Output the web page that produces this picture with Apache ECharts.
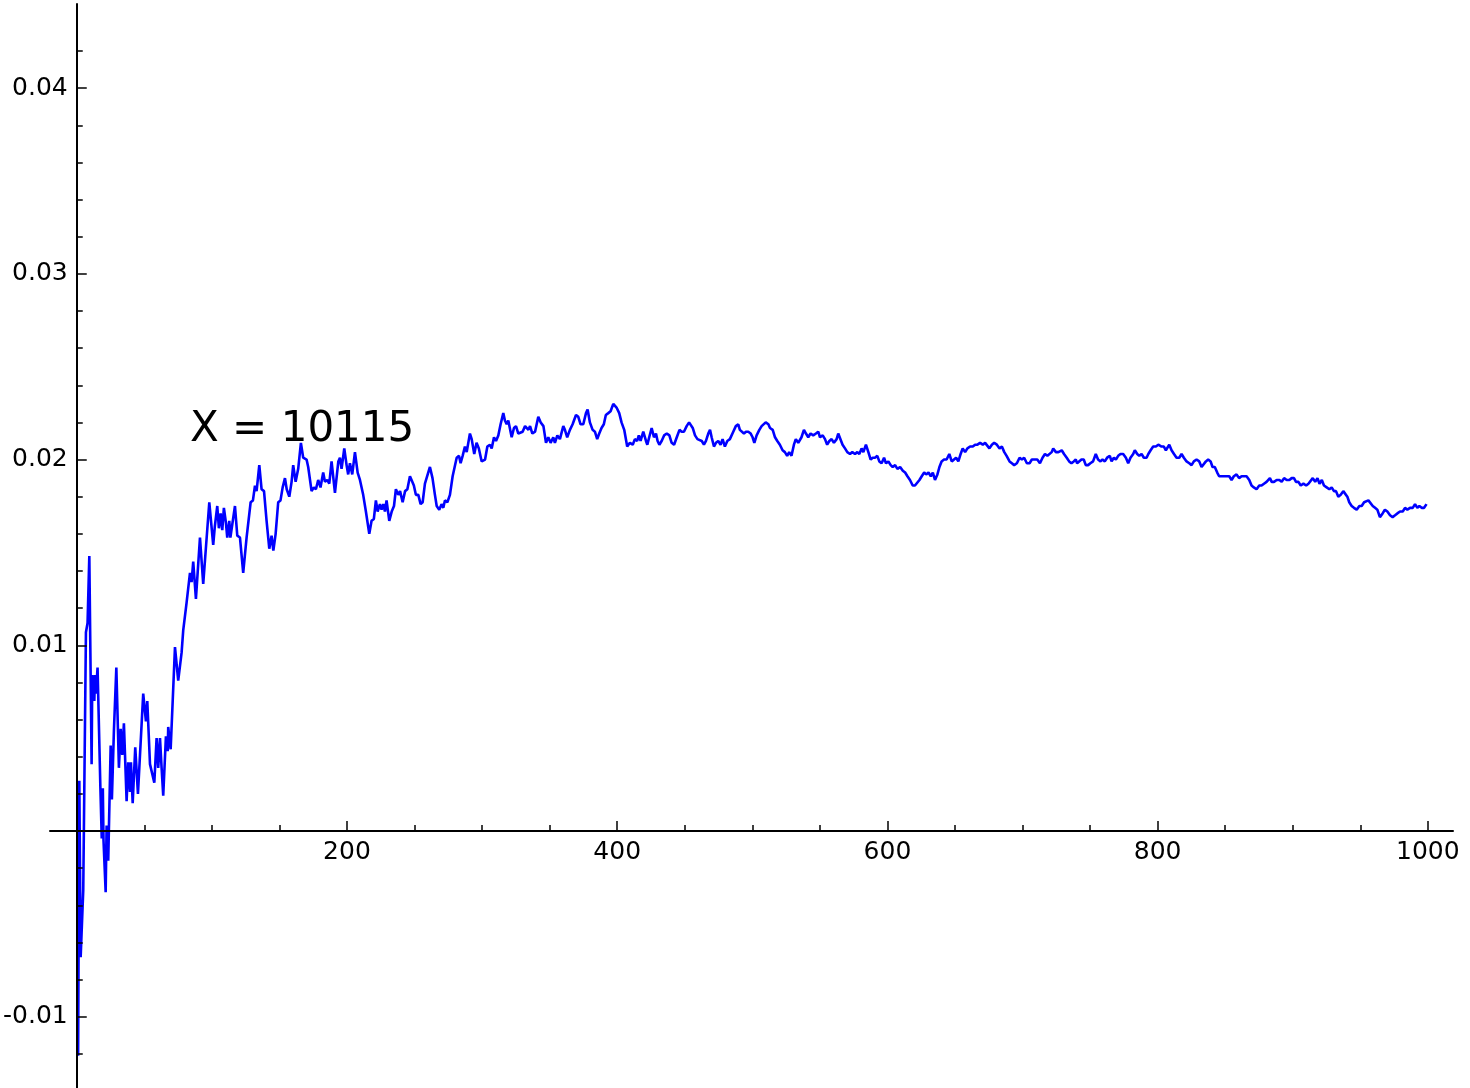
<!DOCTYPE html>
<html><head><meta charset="utf-8">
<script src="https://cdn.jsdelivr.net/npm/echarts@6/dist/echarts.min.js"></script>
<style>html,body{margin:0;padding:0;background:#fff}#chart{width:1470px;height:1088px}</style>
</head><body><div id="chart"></div>
<script>
const xs = [
1, 1.9, 2.9, 4.8, 6.8, 8, 9.3, 11, 11.5, 13,
13.5, 14.2, 15.4, 17.5, 18.5, 19.3, 19.8, 21.4, 22.1, 23.3,
25.1, 26, 27.5, 29.3, 31.2, 32.5, 33.7, 34.9, 36.9, 38.1,
39.4, 40.1, 41.4, 43.3, 45.3, 49.2, 51.2, 52.2, 54.2, 57.4,
59.1, 60.3, 61.6, 62.8, 64, 66, 67.3, 67.7, 69.5, 72.7,
75.1, 77.6, 78.8, 81.3, 82.5, 83.8, 85, 86.2, 88.2, 91.2,
93.6, 98.1, 101, 102.2, 104, 105.2, 106.5, 107.7, 108.9, 110.4,
111.4, 112.9, 113.7, 117.1, 118.8, 120.8, 123.2, 125.7, 128.7, 130.4,
131.9, 133.1, 135.1, 136.8, 138.6, 140.5, 142.5, 144.2, 145.5, 147.2,
149.1, 150.8, 152.4, 154.1, 155.4, 157.3, 159, 160.2, 162, 163.9,
165.9, 167.6, 168.9, 170.1, 171.3, 173.8, 175.5, 177, 178.7, 180.4,
182.4, 183.7, 185.4, 186.9, 188.6, 191.1, 193.6, 194.8, 196, 198,
199.7, 200.9, 202.2, 203.9, 205.9, 207.9, 209.6, 212, 214, 216.5,
218.2, 219.9, 221.4, 222.7, 224.4, 225.6, 226.9, 228.1, 229.3, 231.3,
233.1, 234.8, 236.2, 238, 239.3, 241.2, 243, 244.7, 246.6, 247.8,
249.5, 251, 252.8, 254.5, 256, 257.7, 258.9, 261.4, 263.3, 265.1,
266.4, 268.3, 270, 271.3, 272.5, 274.3, 276.2, 278.2, 281.2, 282.9,
284.1, 285.6, 287.3, 288.6, 291, 292.3, 294.2, 295.9, 297.6, 299.7,
302.2, 303.9, 305.8, 307.1, 308.8, 310.3, 312, 313.7, 315.7, 316.9,
318.2, 319.4, 321.9, 323.6, 325.1, 326.8, 328.1, 330, 331.8, 333,
334.3, 335.5, 337.2, 339.2, 341.6, 343.4, 345.4, 347.3, 349, 350.7,
352.7, 353.9, 355.7, 357.6, 360.1, 361.3, 363, 365, 367, 369.5,
371.2, 372.9, 374.9, 376.9, 378.1, 379.8, 381.8, 383.5, 385.2, 386.7,
388.4, 390.1, 391.6, 393.4, 395.1, 397.1, 399.5, 401.5, 403.2, 405.2,
407.4, 409.4, 411.5, 413.1, 414.8, 416, 417.3, 419.3, 421.3, 422.3,
423.7, 425.5, 427.2, 428.7, 429.9, 431.2, 432.9, 434.7, 436.7, 438.6,
440.3, 442.1, 444.1, 446.1, 447.7, 449.4, 451.4, 453.2, 454.4, 455.9,
457.6, 459.4, 460.8, 462.6, 464.2, 465.7, 467.4, 468.7, 469.9, 471.6,
473.1, 474.8, 476.5, 478, 479.7, 481.5, 483.4, 485.9, 487.8, 489.6,
490.8, 492.1, 493.8, 495.3, 497, 498.8, 500.2, 501.5, 503.2, 505.2,
506.9, 508.2, 509.9, 511.9, 513.1, 515.1, 516.8, 518.5, 520.4, 522.4,
524.1, 525.8, 527.3, 529, 530.8, 532.2, 534, 535.2, 536.4, 538.2,
539.7, 541.4, 543.1, 545.1, 547.1, 548.8, 550.1, 552.1, 553.8, 555.4,
557, 558.7, 560.4, 562.4, 563.6, 564.8, 566.8, 568.6, 570.3, 572.3,
574, 576, 577.7, 579.2, 580.9, 582.2, 584.1, 585.9, 587.6, 589.1,
590.8, 592.5, 594, 595.7, 597.5, 598.9, 600.7, 602.4, 603.9, 605.7,
607.4, 609.4, 611.4, 613.1, 614.8, 616.7, 618.7, 620.4, 621.7, 623.7,
625.4, 627.2, 628.7, 630.4, 632.1, 633.6, 635.2, 637, 638.5, 640.1,
641.9, 643.8, 645.8, 647.6, 648.8, 650.8, 652.5, 654.2, 655.7, 657.5,
659.2, 661.2, 663.2, 664.9, 666.6, 668.6, 670.6, 672.3, 673.5, 675.5,
677.3, 679, 681, 683, 684.7, 686.5, 688.2, 690.4, 692.1, 693.8,
695.8, 697.8, 699.5, 701.2, 703.2, 705.2, 706.9, 708.6, 710.9, 712.9,
714.8, 716.6, 718.4, 719.8, 721.6, 722.7, 724.7, 726.5, 729, 730.7,
732.7, 734.5, 736.2, 737.9, 739.4, 740.4, 741.8, 743.6, 745.3, 746.8,
748.5, 750.2, 752.2, 754.2, 755.9, 757.7, 759.2, 760.9, 762.6, 764.6,
765.9, 767.6, 769.1, 770.8, 772.5, 774.5, 776.5, 778.2, 779.9, 781.9,
783.1, 784.9, 786.4, 788.1, 789.8, 791.8, 793.1, 794.8, 796.7, 798.7,
800.5, 801.7, 802.9, 804.6, 806.1, 807.1, 808.6, 810.3, 812.1, 814,
816, 817.7, 819.4, 821.4, 823.4, 825.1, 826.8, 828.8, 830.8, 832.5,
833.7, 835.7, 837.4, 839.2, 840.6, 842.3, 844.1, 845.5, 847.3, 849,
851, 853, 854.7, 856.4, 858.4, 860.3, 862.1, 863.8, 865.8, 867.8,
869.5, 871.2, 873.2, 875.2, 876.9, 878.7, 880.6, 881.9, 883.1, 884.4,
886.1, 888.1, 890.1, 891.8, 893.6, 895.5, 897.5, 899.2, 900.9, 902.4,
904.2, 905.9, 907.9, 909.9, 911.6, 912.8, 914.8, 916.6, 918.3, 919.8,
921.5, 923.1, 925.1, 927.1, 928.8, 930.5, 932, 933.7, 935.5, 937.4,
938.7, 940.4, 941.8, 943.6, 945.3, 947.3, 949.3, 951, 952.8, 954.2,
956, 957.2, 959.2, 960.9, 962.6, 964.5, 966.5, 968.2, 970, 972,
973.9, 975.7, 977.4, 979.4, 981.4, 983.1, 984.8, 986.8, 988.8, 990.5,
992.2, 993.7, 995.4, 997.2, 999
];
const ys = [
-0.0121, 0.0027, -0.0068, -0.0032, 0.0107, 0.0112, 0.0148, 0.0036, 0.0084, 0.0070,
0.0084, 0.0074, 0.0088, 0.0023, -0.0004, 0.0023, -0.0005, -0.0033, 0.0003, -0.0016,
0.0046, 0.0017, 0.0054, 0.0088, 0.0034, 0.0055, 0.0041, 0.0058, 0.0016, 0.0037,
0.0021, 0.0037, 0.0015, 0.0045, 0.0020, 0.0074, 0.0059, 0.0070, 0.0036, 0.0026,
0.0050, 0.0034, 0.0050, 0.0034, 0.0019, 0.0051, 0.0043, 0.0056, 0.0044, 0.0099,
0.0081, 0.0096, 0.0108, 0.0123, 0.0123, 0.0139, 0.0134, 0.0145, 0.0125, 0.0158,
0.0133, 0.0177, 0.0154, 0.0164, 0.0175, 0.0163, 0.0171, 0.0162, 0.0174, 0.0166,
0.0158, 0.0167, 0.0158, 0.0175, 0.0159, 0.0158, 0.0139, 0.0158, 0.0177, 0.0178,
0.0186, 0.0183, 0.0197, 0.0184, 0.0183, 0.0167, 0.0152, 0.0159, 0.0151, 0.0160,
0.0177, 0.0178, 0.0185, 0.0190, 0.0184, 0.0180, 0.0188, 0.0197, 0.0188, 0.0195,
0.0209, 0.0201, 0.0202, 0.0200, 0.0196, 0.0183, 0.0185, 0.0184, 0.0189, 0.0185,
0.0193, 0.0188, 0.0189, 0.0187, 0.0199, 0.0182, 0.0199, 0.0201, 0.0195, 0.0206,
0.0197, 0.0192, 0.0198, 0.0192, 0.0204, 0.0193, 0.0189, 0.0181, 0.0172, 0.0160,
0.0167, 0.0168, 0.0178, 0.0172, 0.0176, 0.0173, 0.0176, 0.0172, 0.0178, 0.0167,
0.0172, 0.0175, 0.0184, 0.0181, 0.0183, 0.0177, 0.0183, 0.0184, 0.0191, 0.0189,
0.0186, 0.0181, 0.0181, 0.0176, 0.0177, 0.0187, 0.0188, 0.0196, 0.0190, 0.0181,
0.0175, 0.0173, 0.0176, 0.0174, 0.0178, 0.0177, 0.0181, 0.0191, 0.0201, 0.0202,
0.0198, 0.0202, 0.0207, 0.0204, 0.0214, 0.0211, 0.0203, 0.0209, 0.0206, 0.0199,
0.0200, 0.0207, 0.0208, 0.0206, 0.0212, 0.0210, 0.0213, 0.0219, 0.0225, 0.0221,
0.0219, 0.0221, 0.0212, 0.0217, 0.0218, 0.0214, 0.0214, 0.0215, 0.0218, 0.0219,
0.0216, 0.0218, 0.0214, 0.0215, 0.0223, 0.0220, 0.0218, 0.0209, 0.0212, 0.0209,
0.0212, 0.0209, 0.0213, 0.0211, 0.0218, 0.0216, 0.0212, 0.0216, 0.0219, 0.0224,
0.0223, 0.0219, 0.0219, 0.0225, 0.0227, 0.0220, 0.0216, 0.0215, 0.0211, 0.0214,
0.0217, 0.0219, 0.0224, 0.0225, 0.0226, 0.0230, 0.0228, 0.0225, 0.0220, 0.0216,
0.0207, 0.0209, 0.0208, 0.0211, 0.0210, 0.0213, 0.0210, 0.0215, 0.0210, 0.0208,
0.0212, 0.0217, 0.0212, 0.0214, 0.0210, 0.0208, 0.0210, 0.0213, 0.0214, 0.0213,
0.0209, 0.0208, 0.0212, 0.0216, 0.0215, 0.0215, 0.0218, 0.0220, 0.0219, 0.0217,
0.0213, 0.0211, 0.0210, 0.0210, 0.0208, 0.0210, 0.0214, 0.0216, 0.0212, 0.0207,
0.0209, 0.0210, 0.0208, 0.0211, 0.0207, 0.0210, 0.0211, 0.0215, 0.0218, 0.0219,
0.0216, 0.0217, 0.0214, 0.0215, 0.0215, 0.0214, 0.0212, 0.0209, 0.0213, 0.0216,
0.0218, 0.0217, 0.0220, 0.0219, 0.0217, 0.0216, 0.0212, 0.0210, 0.0208, 0.0205,
0.0204, 0.0202, 0.0204, 0.0202, 0.0208, 0.0211, 0.0209, 0.0208, 0.0212, 0.0216,
0.0214, 0.0212, 0.0214, 0.0213, 0.0214, 0.0215, 0.0212, 0.0213, 0.0211, 0.0208,
0.0210, 0.0211, 0.0209, 0.0211, 0.0214, 0.0214, 0.0208, 0.0206, 0.0204, 0.0203,
0.0204, 0.0203, 0.0204, 0.0203, 0.0206, 0.0204, 0.0208, 0.0204, 0.0200, 0.0201,
0.0201, 0.0202, 0.0199, 0.0198, 0.0201, 0.0198, 0.0199, 0.0197, 0.0196, 0.0197,
0.0195, 0.0196, 0.0194, 0.0193, 0.0191, 0.0189, 0.0186, 0.0186, 0.0185, 0.0189,
0.0191, 0.0193, 0.0192, 0.0193, 0.0191, 0.0193, 0.0189, 0.0192, 0.0196, 0.0199,
0.0200, 0.0200, 0.0203, 0.0199, 0.0198, 0.0201, 0.0199, 0.0203, 0.0206, 0.0204,
0.0206, 0.0207, 0.0207, 0.0208, 0.0208, 0.0209, 0.0208, 0.0209, 0.0208, 0.0206,
0.0208, 0.0209, 0.0208, 0.0206, 0.0207, 0.0204, 0.0202, 0.0199, 0.0198, 0.0197,
0.0198, 0.0201, 0.0200, 0.0201, 0.0198, 0.0198, 0.0200, 0.0200, 0.0200, 0.0198,
0.0201, 0.0203, 0.0202, 0.0203, 0.0204, 0.0206, 0.0204, 0.0204, 0.0205, 0.0203,
0.0201, 0.0199, 0.0198, 0.0199, 0.0200, 0.0198, 0.0197, 0.0200, 0.0200, 0.0197,
0.0197, 0.0198, 0.0199, 0.0203, 0.0200, 0.0199, 0.0200, 0.0199, 0.0201, 0.0202,
0.0199, 0.0201, 0.0200, 0.0202, 0.0203, 0.0203, 0.0201, 0.0198, 0.0201, 0.0203,
0.0205, 0.0203, 0.0202, 0.0203, 0.0201, 0.0201, 0.0203, 0.0205, 0.0207, 0.0207,
0.0208, 0.0209, 0.0207, 0.0207, 0.0205, 0.0206, 0.0208, 0.0205, 0.0203, 0.0201,
0.0201, 0.0203, 0.0201, 0.0199, 0.0198, 0.0197, 0.0199, 0.0200, 0.0199, 0.0196,
0.0197, 0.0199, 0.0200, 0.0199, 0.0196, 0.0196, 0.0193, 0.0191, 0.0191, 0.0191,
0.0191, 0.0191, 0.0189, 0.0191, 0.0192, 0.0190, 0.0191, 0.0191, 0.0191, 0.0189,
0.0186, 0.0185, 0.0184, 0.0186, 0.0186, 0.0187, 0.0188, 0.0189, 0.0190, 0.0188,
0.0188, 0.0189, 0.0189, 0.0188, 0.0190, 0.0189, 0.0189, 0.0190, 0.0190, 0.0188,
0.0188, 0.0186, 0.0187, 0.0186, 0.0187, 0.0188, 0.0190, 0.0188, 0.0190, 0.0187,
0.0189, 0.0186, 0.0185, 0.0184, 0.0185, 0.0183, 0.0183, 0.0180, 0.0181, 0.0183,
0.0183, 0.0180, 0.0177, 0.0175, 0.0174, 0.0173, 0.0175, 0.0175, 0.0177, 0.0177,
0.0178, 0.0178, 0.0175, 0.0174, 0.0173, 0.0169, 0.0171, 0.0173, 0.0172, 0.0170,
0.0169, 0.0170, 0.0171, 0.0172, 0.0172, 0.0174, 0.0173, 0.0174, 0.0174, 0.0176,
0.0174, 0.0175, 0.0174, 0.0174, 0.0176
];
const xMajorTicks = [200, 400, 600, 800, 1000];
const xMinorTicks = [50, 100, 150, 250, 300, 350, 450, 500, 550, 650, 700, 750, 850, 900, 950];
const yMajorTicks = [-0.01, 0.01, 0.02, 0.03, 0.04];
const yMinorTicks = [-0.012, -0.008, -0.006, -0.004, -0.002, 0.002, 0.004, 0.006, 0.008,
  0.012, 0.014, 0.016, 0.018, 0.022, 0.024, 0.026, 0.028, 0.032, 0.034, 0.036, 0.038, 0.042];
const annotationText = 'X = 10115';

const FONT = '"DejaVu Sans", "Liberation Sans", sans-serif';
const X_MIN = -19.8, X_MAX = 1018.6;
const Y_MIN = -0.01384, Y_MAX = 0.04453;
const GRID = {left: 50, right: 17, top: 4, bottom: 0};
const W = 1470, H = 1088;
const gridW = W - GRID.left - GRID.right;
const gridH = H - GRID.top - GRID.bottom;
// place each axis where the other axis has value 0 (axes cross at the origin)
const xAxisOffset = -gridH * (0 - Y_MIN) / (Y_MAX - Y_MIN);
const yAxisOffset = -gridW * (0 - X_MIN) / (X_MAX - X_MIN);

const chart = echarts.init(document.getElementById('chart'), null, {renderer: 'canvas'});
const lineData = xs.map((x, i) => [x, ys[i]]);

const tickStyle = {color: '#000', width: 1.5};
const option = {
  animation: false,
  backgroundColor: '#fff',
  grid: Object.assign({containLabel: false, outerBoundsMode: 'none'}, GRID),
  xAxis: [
    {
      type: 'value', min: X_MIN, max: X_MAX, position: 'bottom', offset: xAxisOffset, z: 5,
      axisLine: {show: true, onZero: false, lineStyle: {color: '#000', width: 2}},
      axisTick: {show: true, inside: true, length: 10, customValues: xMajorTicks, lineStyle: tickStyle},
      axisLabel: {show: true, customValues: xMajorTicks, margin: 9, fontSize: 25, color: '#000', fontFamily: FONT,
        formatter: v => String(Math.round(v))},
      splitLine: {show: false}
    },
    {
      type: 'value', min: X_MIN, max: X_MAX, position: 'bottom', offset: xAxisOffset, z: 5,
      axisLine: {show: false, onZero: false},
      axisTick: {show: true, inside: true, length: 6, customValues: xMinorTicks, lineStyle: tickStyle},
      axisLabel: {show: false},
      splitLine: {show: false}
    }
  ],
  yAxis: [
    {
      type: 'value', min: Y_MIN, max: Y_MAX, position: 'left', offset: yAxisOffset, z: 5,
      axisLine: {show: true, onZero: false, lineStyle: {color: '#000', width: 2}},
      axisTick: {show: true, inside: true, length: 10, customValues: yMajorTicks, lineStyle: tickStyle},
      axisLabel: {show: true, customValues: yMajorTicks, margin: 9, fontSize: 25, color: '#000', fontFamily: FONT,
        formatter: v => v.toFixed(2)},
      splitLine: {show: false}
    },
    {
      type: 'value', min: Y_MIN, max: Y_MAX, position: 'left', offset: yAxisOffset, z: 5,
      axisLine: {show: false, onZero: false},
      axisTick: {show: true, inside: true, length: 6, customValues: yMinorTicks, lineStyle: tickStyle},
      axisLabel: {show: false},
      splitLine: {show: false}
    }
  ],
  series: [{
    type: 'line', xAxisIndex: 0, yAxisIndex: 0, data: lineData,
    symbol: 'none', showSymbol: false, z: 2,
    lineStyle: {color: '#0000ff', width: 2.6},
    itemStyle: {color: '#0000ff'}
  }],
  graphic: [{
    type: 'text', x: 190, y: 430, z: 10,
    style: {text: annotationText, fill: '#000', font: '42px ' + FONT, align: 'left', verticalAlign: 'middle'}
  }]
};
chart.setOption(option);
</script>
</body></html>
